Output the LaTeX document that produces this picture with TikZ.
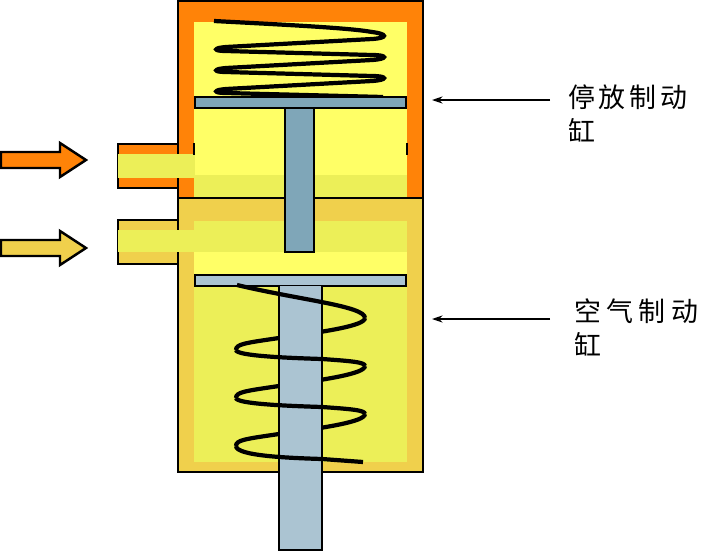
\documentclass[tikz,border=0pt]{standalone}
\usepackage{fontspec}
\newfontfamily\cjk[LetterSpace=14]{Noto Sans CJK SC}
\newfontfamily\cjkwide[LetterSpace=20]{Noto Sans CJK SC}
\usetikzlibrary{arrows.meta}

\definecolor{parkwall}{RGB}{255,131,8} % orange
\definecolor{airwall}{RGB}{240,208,76} % gold
\definecolor{chamber}{RGB}{255,255,102} % yellow
\definecolor{airfill}{RGB}{236,239,88} % green yellow
\definecolor{parksteel}{RGB}{127,166,184} % dark blue grey
\definecolor{airsteel}{RGB}{171,196,210} % light blue grey

\tikzset{
  outline/.style={draw=black,line width=2.1pt},
  coil/.style={black,line width=3.6pt},
  pointer/.style={black,line width=1.2pt,-{Stealth[length=9pt,width=6pt]}},
  caption/.style={anchor=north west,inner sep=0pt,align=left,font=\cjk\fontsize{23}{29.8}\selectfont},
  widecaption/.style={anchor=north west,inner sep=0pt,align=left,font=\cjkwide\fontsize{23}{29.8}\selectfont},
}

\begin{document}
\begin{tikzpicture}[x=0.03cm,y=-0.03cm]

  \useasboundingbox (0,0) rectangle (714,551);

  % Air inlets
  \draw[outline,fill=parkwall] (178,144) -| (118,188) -- (178,188);
  \draw[outline,fill=airwall] (178,220) -| (118,264) -- (178,264);

  % Cylinder walls
  \draw[outline,fill=parkwall] (178,198) |- (423,1) |- cycle;
  \draw[outline,fill=airwall] (178,198) rectangle (423,472);

  % Chambers
  \fill[chamber] (194,22) rectangle (407,175);
  \fill[airfill] (194,175) rectangle (407,198);
  \fill[airfill] (194,221) rectangle (407,252);
  \fill[chamber] (194,252) rectangle (407,275);
  \fill[airfill] (194,286) rectangle (407,462);

  % Inlet channels
  \fill[airfill] (118,154) rectangle (195,178);
  \fill[airfill] (118,230) rectangle (195,252);
  \draw[black,line width=1pt] (194,143) -- (194,155);
  \draw[black,line width=1pt] (407,143) -- (407,155);
  \draw[black,line width=1.5pt] (178,198) -- (423,198);

  % Block arrows
  \foreach \y/\c in {160/parkwall,248/airwall}
    \draw[outline,fill=\c] (1,\y-8) -- (60,\y-8) -- (60,\y-17) -- (86,\y)
      -- (60,\y+17) -- (60,\y+8) -- (1,\y+8) -- cycle;

  % Upper spring
  \draw[coil] (214,21) .. controls (290,25) and (350,28) .. (372,32)
    .. controls (388,34) and (388,38) .. (372,39)
    -- (226,47)
    .. controls (213,48) and (213,51) .. (226,51)
    -- (372,55)
    .. controls (388,55) and (388,59) .. (372,60)
    -- (226,68)
    .. controls (213,69) and (213,72) .. (226,72)
    -- (372,76)
    .. controls (388,76) and (388,80) .. (372,81)
    -- (226,89)
    .. controls (213,90) and (213,93) .. (226,93)
    -- (383,97);

  % Lower spring, rear turns
  \foreach \dy in {0,48,96}
    \draw[coil] (365,318+\dy) .. controls (365,326+\dy) and (322,332+\dy) .. (279,338+\dy)
      .. controls (245,343+\dy) and (236,344+\dy) .. (236,350+\dy);

  % Plates and rods
  \draw[outline,fill=parksteel] (195,97) rectangle (406,108);
  \draw[outline,fill=parksteel] (285,108) rectangle (314,252);
  \draw[outline,fill=airsteel] (195,275) rectangle (406,286);
  \draw[outline,fill=airsteel] (279,286) |- (322,550) -- (322,286);
  \fill[airsteel] (280,287) rectangle (321,549);

  % Lower spring, front turns
  \draw[coil] (237,285) .. controls (300,300) and (365,306) .. (365,318);
  \foreach \dy in {0,48}
    \draw[coil] (236,350+\dy) .. controls (236,356+\dy) and (290,358+\dy) .. (322,359+\dy)
      .. controls (350,361+\dy) and (365,362+\dy) .. (365,366+\dy);
  \draw[coil] (236,446) .. controls (236,456) and (290,458) .. (322,459)
    -- (363,462);

  % Labels
  \node[caption] (parklabel) at (568,84) {停放制动\\缸};
  \node[widecaption] (airlabel) at (574,298) {空气制动\\缸};

  \coordinate (parkstart) at (550,100);
  \coordinate (parkend) at (432,100);
  \coordinate (airstart) at (550,319);
  \coordinate (airend) at (432,319);
  \draw[pointer] (parkstart) -- (parkend);
  \draw[pointer] (airstart) -- (airend);

\end{tikzpicture}
\end{document}
